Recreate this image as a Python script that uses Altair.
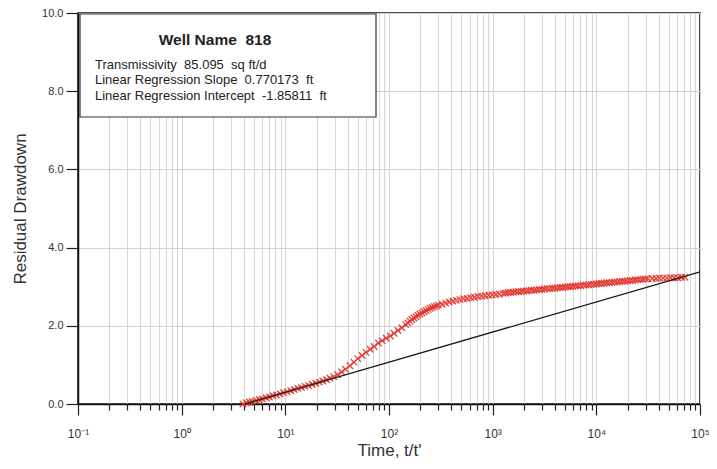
import altair as alt
import pandas as pd
import numpy as np

# ---- data ----
t_ratio = [
    3.9, 4.2, 4.5, 4.8, 5.2, 5.6, 6.0, 6.5, 7.0, 7.6, 8.2, 8.9, 9.6, 10.4, 11.3, 12.2,
    13.2, 14.3, 15.5, 16.8, 18.2, 19.7, 21.3, 23.0, 25.0, 27.0, 29.3,
    32, 35, 38, 42, 46, 50, 55, 60, 66, 72, 79, 86, 94, 103, 112, 122, 133, 145,
    152, 159, 166, 174, 182, 190, 199, 208, 218, 228, 239, 250, 262, 274, 287, 300,
    325, 352, 381, 413, 447, 484, 524, 568, 615, 666, 721, 781, 846, 916, 992, 1074, 1163, 1260,
    1334, 1413, 1496, 1585, 1679, 1778, 1884, 1995, 2113, 2239, 2371, 2512, 2661, 2818, 2985,
    3162, 3350, 3548, 3758, 3981, 4217, 4467, 4732, 5012, 5309, 5623, 5957, 6310, 6683, 7079,
    7499, 7943, 8414, 8913, 9441, 10000, 10593, 11220, 11885, 12589, 13335, 14125, 14962,
    15849, 16788, 17783, 18836, 19953, 21135, 22387, 23714, 25119, 26607, 28184, 29854,
    31623, 34674, 37584, 40738, 44157, 47863, 51880, 56234, 60954, 66069, 71614,
]
residual_drawdown = [
    0.00, 0.03, 0.05, 0.06, 0.09, 0.11, 0.13, 0.16, 0.18, 0.21, 0.23, 0.26, 0.29, 0.31, 0.34, 0.37,
    0.40, 0.42, 0.45, 0.47, 0.50, 0.53, 0.56, 0.59, 0.62, 0.66, 0.70,
    0.75, 0.82, 0.89, 0.98, 1.07, 1.16, 1.24, 1.32, 1.40, 1.47, 1.56, 1.62, 1.68, 1.74, 1.81, 1.88, 1.95, 2.03,
    2.07, 2.12, 2.16, 2.20, 2.23, 2.27, 2.30, 2.33, 2.36, 2.39, 2.42, 2.45, 2.47, 2.49, 2.51, 2.53,
    2.55, 2.58, 2.61, 2.63, 2.65, 2.67, 2.69, 2.70, 2.72, 2.73, 2.75, 2.76, 2.77, 2.78, 2.79, 2.80, 2.81, 2.83,
    2.84, 2.85, 2.85, 2.86, 2.87, 2.87, 2.88, 2.89, 2.89, 2.90, 2.91, 2.91, 2.92, 2.93, 2.93,
    2.94, 2.95, 2.95, 2.96, 2.96, 2.97, 2.98, 2.98, 2.99, 3.00, 3.00, 3.01, 3.02, 3.02, 3.03,
    3.04, 3.04, 3.05, 3.06, 3.06, 3.07, 3.08, 3.08, 3.09, 3.10, 3.10, 3.11, 3.12,
    3.12, 3.13, 3.14, 3.14, 3.15, 3.16, 3.16, 3.17, 3.18, 3.18, 3.19, 3.20,
    3.20, 3.21, 3.21, 3.22, 3.22, 3.22, 3.23, 3.23, 3.23, 3.24, 3.24,
]

# straight-line fit drawn on the chart (per log10 decade)
fit_slope = 0.770173
fit_offset = -0.47
fit_t = [4.1, 100000]

decades = [0.1, 1, 10, 100, 1000, 10000, 100000]
minor_mult = [1, 2, 3, 4, 5, 6, 7, 8, 9]
y_ticks = [0, 1, 2, 3, 4, 5, 6, 7, 8, 9, 10]

box_title = "Well Name  818"
box_lines = [
    "Transmissivity  85.095  sq ft/d",
    "Linear Regression Slope  0.770173  ft",
    "Linear Regression Intercept  -1.85811  ft",
]

FONT = "Liberation Sans"
NB = lambda s: s.replace("  ", " \u00a0")

pts = pd.DataFrame({"t": t_ratio, "s": residual_drawdown})
fit = pd.DataFrame({"t": fit_t})
fit["s"] = fit_slope * np.log10(fit["t"]) + fit_offset

x_vals = [m * d for d in decades[:-1] for m in minor_mult] + [decades[-1]]

E = "round(log(datum.value)/LN10)"
is_major = f"abs(log(datum.value)/LN10 - {E}) < 0.001"
sup = (f"({E} == -1 ? '⁻¹' : {E} == 0 ? '⁰' : {E} == 1 ? '¹' : {E} == 2 ? '²' : "
       f"{E} == 3 ? '³' : {E} == 4 ? '⁴' : '⁵')")
x_label_expr = f"{is_major} ? '10' + {sup} : ''"

x_scale = alt.Scale(type="log", domain=[0.1, 100000], nice=False)
y_scale = alt.Scale(domain=[0, 10], nice=False)

x_axis = alt.Axis(
    values=x_vals, labelExpr=x_label_expr, title="Time, t/t'",
    grid=True, gridColor="#d6d6d6", gridWidth=1,
    tickColor="#222", tickWidth=1.2,
    tickSize={"condition": {"test": is_major, "value": 11}, "value": 6},
    labelPadding=13, labelFontSize=12, labelColor="#333", labelFont=FONT,
    labelFlush=False, labelOverlap=False,
    titleFont=FONT, titleFontSize=17, titleFontWeight="normal", titleColor="#333",
    titlePadding=3, domainColor="#111", domainWidth=1.5,
)
y_axis = alt.Axis(
    values=y_ticks,
    labelExpr="datum.value % 2 == 0 ? format(datum.value, '.1f') : ''",
    title="Residual Drawdown",
    grid=True, gridColor="#d2d2d2", gridWidth=1,
    gridOpacity={"condition": {"test": "datum.value % 2 == 0", "value": 1}, "value": 0},
    tickColor="#222", tickWidth=1.2, tickSize=12, labelPadding=3,
    labelFontSize=11, labelColor="#333", labelFont=FONT,
    titleFont=FONT, titleFontSize=17, titleFontWeight="normal", titleColor="#333",
    titlePadding=12, domainColor="#111", domainWidth=1.5,
)

points = alt.Chart(pts).mark_point(
    shape="M-1,-1L1,1M-1,1L1,-1", size=42, stroke="#e2302a", strokeWidth=1.3,
    opacity=0.9, filled=False,
).encode(
    x=alt.X("t:Q", scale=x_scale, axis=x_axis),
    y=alt.Y("s:Q", scale=y_scale, axis=y_axis),
)

fit_line = alt.Chart(fit).mark_line(color="#1a1a1a", strokeWidth=1.3).encode(
    x=alt.X("t:Q", scale=x_scale),
    y=alt.Y("s:Q", scale=y_scale),
)

anchor = pd.DataFrame({"a": [0]})
box = alt.Chart(anchor).mark_rect(fill="white", stroke="#333", strokeWidth=1.2).encode(
    x=alt.value(2), x2=alt.value(298), y=alt.value(1), y2=alt.value(104),
)
title_txt = alt.Chart(anchor).mark_text(
    font=FONT, fontSize=15.5, fontWeight="bold", color="#222", align="center", baseline="middle",
).encode(x=alt.value(137), y=alt.value(27), text=alt.value(NB(box_title)))

line_y = [52, 67, 83]
line_layers = [
    alt.Chart(anchor).mark_text(
        font=FONT, fontSize=13, color="#222", align="left", baseline="middle",
    ).encode(x=alt.value(17), y=alt.value(yy), text=alt.value(NB(txt)))
    for txt, yy in zip(box_lines, line_y)
]

chart = alt.layer(points, fit_line, box, title_txt, *line_layers).properties(
    width=622, height=391,
    autosize=alt.AutoSizeParams(type="none"),
    padding={"left": 70, "top": 5, "right": 9, "bottom": 57},
    background="white",
).configure_view(stroke="#111", strokeWidth=1.5)

chart.save("out.html", embed_options={"renderer": "svg", "actions": False})
